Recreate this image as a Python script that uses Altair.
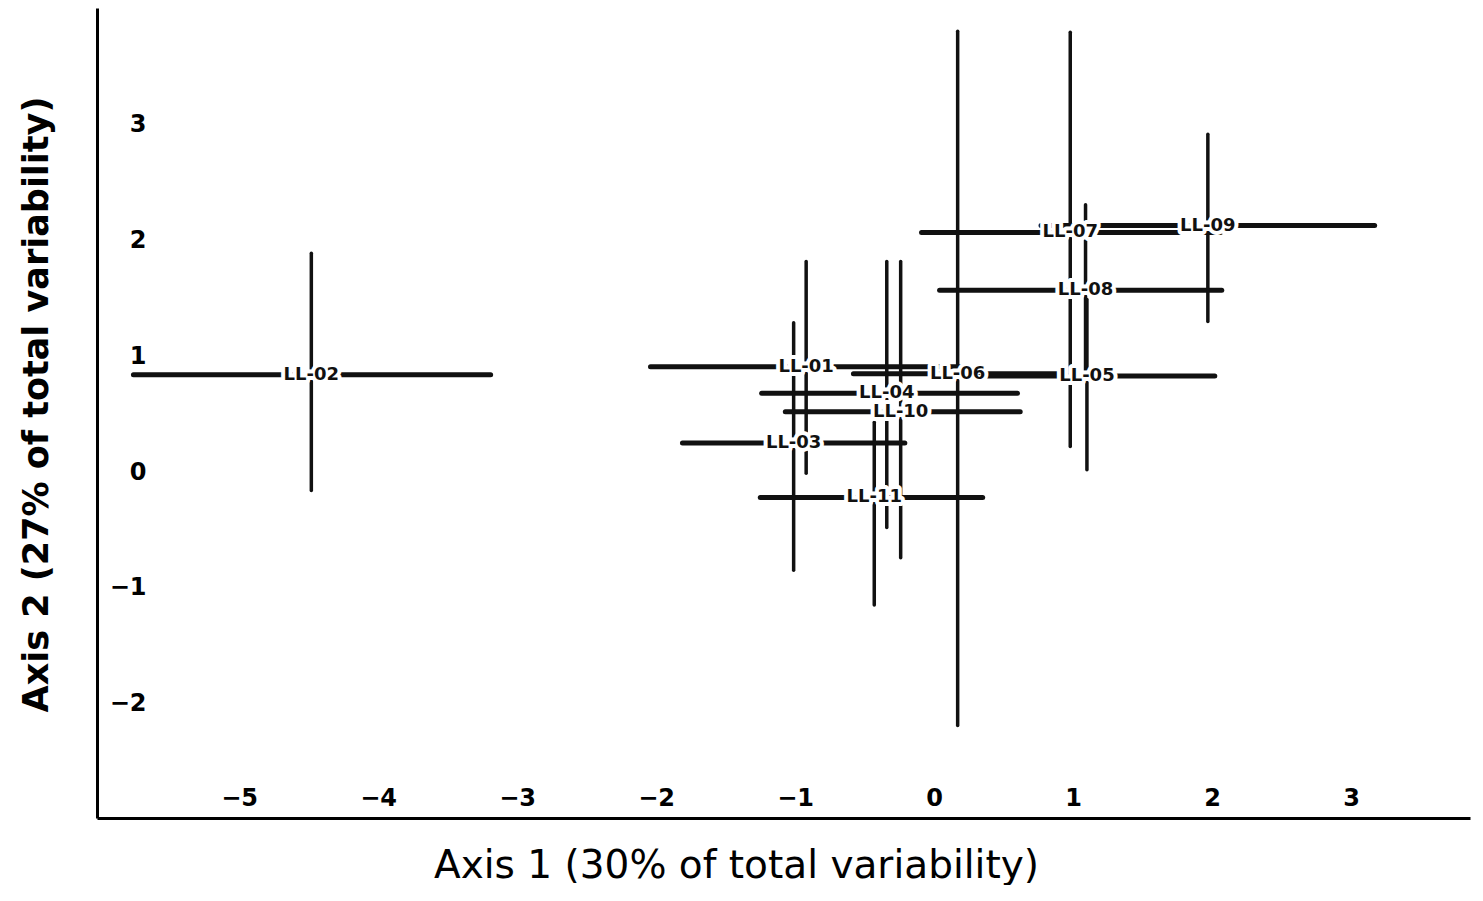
import altair as alt
import pandas as pd

# ---- data ----
labels = ["LL-01", "LL-02", "LL-03", "LL-04", "LL-05", "LL-06",
          "LL-07", "LL-08", "LL-09", "LL-10", "LL-11"]
axis1 = [-0.92, -4.48, -1.01, -0.34, 1.10, 0.17, 0.98, 1.09, 1.97, -0.24, -0.43]
axis1_low = [-2.04, -5.76, -1.81, -1.24, 0.15, -0.58, -0.09, 0.04, 0.77, -1.07, -1.25]
axis1_high = [0.20, -3.19, -0.21, 0.60, 2.02, 0.93, 2.06, 2.07, 3.17, 0.62, 0.35]
axis2 = [0.91, 0.84, 0.25, 0.68, 0.83, 0.85, 2.07, 1.57, 2.13, 0.52, -0.22]
axis2_low = [-0.01, -0.16, -0.85, -0.48, 0.02, -2.19, 0.22, 0.84, 1.30, -0.74, -1.15]
axis2_high = [1.82, 1.89, 1.29, 1.82, 1.49, 3.81, 3.80, 2.31, 2.92, 1.82, 0.43]
x_ticks = [-5, -4, -3, -2, -1, 0, 1, 2, 3]
y_ticks = [-2, -1, 0, 1, 2, 3]

df = pd.DataFrame({
    "label": labels,
    "x": axis1, "xlo": axis1_low, "xhi": axis1_high,
    "y": axis2, "ylo": axis2_low, "yhi": axis2_high,
})

xscale = alt.Scale(domain=[-6.022, 3.856], nice=False, zero=False)
yscale = alt.Scale(domain=[-2.99, 4.01], nice=False, zero=False)

x_axis = alt.Axis(
    values=x_ticks, ticks=False, grid=False, format="d",
    domainColor="black", domainWidth=3,
    labelFont="DejaVu Sans", labelFontWeight="bold", labelFontSize=24,
    labelColor="black", labelPadding=-13, labelBaseline="alphabetic",
    labelFlush=False, labelOverlap=False,
    title="Axis 1 (30% of total variability)",
    titleFont="DejaVu Sans", titleFontSize=39, titleFontWeight="normal",
    titleColor="black", titleX=639, titleY=59, titleAlign="center",
    titleBaseline="alphabetic",
)
y_axis = alt.Axis(
    values=y_ticks, ticks=False, grid=False, format="d",
    domainColor="black", domainWidth=3,
    labelFont="DejaVu Sans", labelFontWeight="bold", labelFontSize=24,
    labelColor="black", labelPadding=-49, labelAlign="right",
    labelBaseline="middle", labelFlush=False, labelOverlap=False,
    title="Axis 2 (27% of total variability)",
    titleFont="DejaVu Sans", titleFontSize=35, titleFontWeight="bold",
    titleColor="black", titleX=-50, titleY=396, titleAngle=270,
    titleAlign="center", titleBaseline="alphabetic",
)

base = alt.Chart(df)

hbars = base.mark_rule(color="#111", strokeWidth=5, strokeCap="round").encode(
    x=alt.X("xlo:Q", scale=xscale, axis=x_axis),
    x2="xhi:Q",
    y=alt.Y("y:Q", scale=yscale, axis=y_axis),
)
vbars = base.mark_rule(color="#111", strokeWidth=3.5, strokeCap="round").encode(
    x=alt.X("x:Q", scale=xscale, axis=x_axis),
    y=alt.Y("ylo:Q", scale=yscale, axis=y_axis),
    y2="yhi:Q",
)
halo = base.mark_text(
    font="DejaVu Sans", fontSize=18, fontWeight="bold",
    stroke="white", strokeWidth=8, strokeJoin="round", fill="white",
    align="center", baseline="middle",
).encode(
    x=alt.X("x:Q", scale=xscale, axis=x_axis),
    y=alt.Y("y:Q", scale=yscale, axis=y_axis),
    text="label:N",
)
text = base.mark_text(
    font="DejaVu Sans", fontSize=18, fontWeight="bold", color="#111",
    align="center", baseline="middle",
).encode(
    x=alt.X("x:Q", scale=xscale, axis=x_axis),
    y=alt.Y("y:Q", scale=yscale, axis=y_axis),
    text="label:N",
)

chart = alt.layer(hbars, vbars, halo, text).properties(
    width=1373, height=810,
    autosize=alt.AutoSizeParams(type="none"),
    padding={"left": 89, "top": 0, "right": 2, "bottom": 67},
    background="white",
).configure_view(stroke=None)

chart.save("out.html", embed_options={"renderer": "svg", "actions": False})
